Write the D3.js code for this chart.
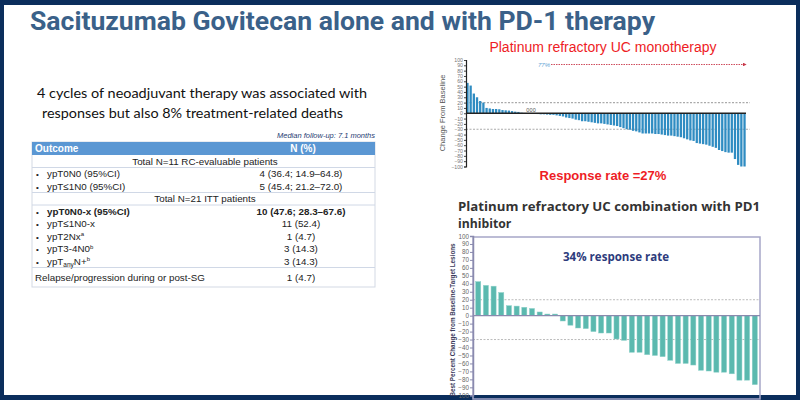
<!DOCTYPE html>
<html><head><meta charset="utf-8">
<script src="https://cdn.jsdelivr.net/npm/d3@7"></script>
<style>body{margin:0;background:#fff}svg{display:block}</style>
</head><body>
<svg id="c" width="800" height="400"></svg>
<script>
// ---------- DATA ----------
const monoValues = [57,52,37,30,23,20,10,9,8,8,7.5,6,5.5,5,4,3,2.5,1,
  0,0,0,
  -1,-1.5,-2,-2,-2.5,-3,-3,-4,-5,-6,-8,-9,-10,-12,-13,-15,-15,-16,-17,-18,
  -19,-19,-20,-21,-22,-23,-24,-26,-28,-30,-31,-33,-34,-36,-38,-38,-38,-38,-39,-39,
  -40,-41,-42,-42,-43,-44,-45,-47,-49,-51,-52,-56,-57,-58,-59,-61,-63,-65,-69,-71,
  -73,-74,-74,-86,-97,-100,-100];
const comboValues = [42.7,38,37,29,12.5,12,10.5,9,4.6,2,2,-6.7,-12,-15.5,-16.3,-20,-21.8,-21.8,
  -29.3,-31,-46,-46,-49,-50,-51.5,-56,-60,-60,-62,-68.6,-69.5,-71,-71,-73,-81,-81,-86.6];
const yTicks = d3.range(-100, 101, 10);
const refLines = [20, -30];
const tableOutcomes = ["Total N=11 RC-evaluable patients","ypT0N0 (95%CI)","ypT≤1N0 (95%CI)",
  "Total N=21 ITT patients","ypT0N0-x (95%CI)","ypT≤1N0-x","ypT2Nx^a","ypT3-4N0^b","ypT_any_N+^b",
  "Relapse/progression during or post-SG"];
const tableN = ["","4 (36.4; 14.9–64.8)","5 (45.4; 21.2–72.0)","","10 (47.6; 28.3–67.6)",
  "11 (52.4)","1 (4.7)","3 (14.3)","3 (14.3)","1 (4.7)"];
const tableRowType = ["group","item","item","group","bold","item","item","item","item","plain"];

// ---------- SETUP ----------
const svg = d3.select("#c");
svg.append("rect").attr("width",800).attr("height",400).attr("fill","#fff");
const navy = "#0b2e5c";
svg.append("rect").attr("x",0).attr("y",0).attr("width",800).attr("height",5).attr("fill",navy);
svg.append("rect").attr("x",0).attr("y",0).attr("width",4).attr("height",400).attr("fill",navy);
svg.append("rect").attr("x",796).attr("y",0).attr("width",4).attr("height",400).attr("fill",navy);
svg.append("rect").attr("x",0).attr("y",395).attr("width",800).attr("height",5).attr("fill",navy);

// Title
svg.append("text").attr("x",30).attr("y",30)
  .attr("font-family","Roboto, sans-serif").attr("font-weight","bold").attr("font-size",25)
  .attr("fill","#3a6189").attr("textLength",625).attr("lengthAdjust","spacingAndGlyphs")
  .text("Sacituzumab Govitecan alone and with PD-1 therapy");

// Paragraph
svg.append("text").attr("x",37).attr("y",98)
  .attr("font-family","Lato, 'Open Sans', sans-serif").attr("font-size",14).attr("fill","#111")
  .attr("textLength",330).attr("lengthAdjust","spacingAndGlyphs")
  .text("4 cycles of neoadjuvant therapy was associated with");
svg.append("text").attr("x",42).attr("y",118)
  .attr("font-family","Lato, 'Open Sans', sans-serif").attr("font-size",14).attr("fill","#111")
  .attr("textLength",301).attr("lengthAdjust","spacingAndGlyphs")
  .text("responses but also 8% treatment-related deaths");

// ---------- TABLE ----------
const tf = "'Liberation Sans', Arial, sans-serif";
const tX0 = 32, tX1 = 375, headTop = 142, headH = 13, rowH = 12.5, valX = 301;
svg.append("text").attr("x",tX1).attr("y",138).attr("text-anchor","end")
  .attr("font-family",tf).attr("font-style","italic").attr("font-size",7.5).attr("fill","#1f3d73")
  .text("Median follow-up: 7.1 months");
svg.append("rect").attr("x",tX0).attr("y",headTop).attr("width",tX1-tX0).attr("height",287-headTop)
  .attr("fill","#fff").attr("stroke","#d3d9e4").attr("stroke-width",1);
svg.append("rect").attr("x",tX0).attr("y",headTop).attr("width",tX1-tX0).attr("height",headH)
  .attr("fill","#5b97d3");
svg.append("text").attr("x",35).attr("y",headTop+10).attr("font-family",tf).attr("font-weight","bold")
  .attr("font-size",10).attr("fill","#fff").text("Outcome");
svg.append("text").attr("x",valX+2).attr("y",headTop+10).attr("text-anchor","middle").attr("font-family",tf)
  .attr("font-weight","bold").attr("font-size",10).attr("fill","#fff").text("N (%)");

const rowTop = i => i < 9 ? headTop+headH+i*rowH : headTop+headH+9*rowH;
const rowHt = i => i < 9 ? rowH : 287-(headTop+headH+9*rowH);
[1,3,4,9].forEach(i=>{
  svg.append("line").attr("x1",tX0).attr("x2",tX1).attr("y1",rowTop(i)).attr("y2",rowTop(i))
    .attr("stroke","#d0d8e6").attr("stroke-width",1);
});
function addRich(sel, str){
  const parts = str.split(/(_[^_]+_|\^[a-z])/).filter(s=>s.length);
  let shift = 0;
  parts.forEach(p=>{
    if (p.startsWith("_")) { sel.append("tspan").attr("dy",2-shift).attr("font-size",6.5).text(p.slice(1,-1)); shift=2; }
    else if (p.startsWith("^")) { sel.append("tspan").attr("dy",-3.5-shift).attr("font-size",6).text(p.slice(1)); shift=-3.5; }
    else { sel.append("tspan").attr("dy",-shift).text(p); shift=0; }
  });
}
tableOutcomes.forEach((o,i)=>{
  const cy = rowTop(i)+rowHt(i)/2 + 3.4;
  const t = tableRowType[i];
  const weight = t==="bold" ? "bold" : "normal";
  if (t==="group") {
    svg.append("text").attr("x",205).attr("y",cy).attr("text-anchor","middle").attr("font-family",tf)
      .attr("font-size",9.8).attr("fill","#222").text(o);
  } else {
    if (t!=="plain") svg.append("text").attr("x",36).attr("y",cy).attr("font-family",tf).attr("font-size",8)
      .attr("fill","#222").text("•");
    const tx = svg.append("text").attr("x",t==="plain"?35:47).attr("y",cy).attr("font-family",tf)
      .attr("font-size",9.8).attr("font-weight",weight).attr("fill","#222");
    addRich(tx,o);
    svg.append("text").attr("x",valX).attr("y",cy).attr("text-anchor","middle").attr("font-family",tf)
      .attr("font-size",9.8).attr("font-weight",weight).attr("fill","#222").text(tableN[i]);
  }
});

// ---------- TOP-RIGHT: monotherapy waterfall ----------
const af = "'Liberation Sans', Arial, sans-serif";
svg.append("text").attr("x",603).attr("y",52).attr("text-anchor","middle").attr("font-family",af)
  .attr("font-size",14).attr("fill","#ee1c25").text("Platinum refractory UC monotherapy");
const x1 = d3.scaleBand().domain(d3.range(monoValues.length)).range([466,746]).paddingInner(0.28).paddingOuter(0.1);
const y1 = d3.scaleLinear().domain([-100,100]).range([166.5,60]);
const g1 = svg.append("g");
refLines.forEach(v=>{
  g1.append("line").attr("x1",466).attr("x2",750).attr("y1",y1(v)).attr("y2",y1(v))
    .attr("stroke","#aaa").attr("stroke-width",1.2).attr("stroke-dasharray","2,1.5");
});
g1.selectAll("rect.b").data(monoValues).enter().append("rect").attr("class","b")
  .attr("x",(d,i)=>x1(i)).attr("width",x1.bandwidth())
  .attr("y",d=>y1(Math.max(0,d))).attr("height",d=>Math.abs(y1(d)-y1(0)))
  .attr("fill","#2f8cc2");
g1.selectAll("text.z").data(monoValues.map((d,i)=>({d,i})).filter(o=>o.d===0)).enter().append("text")
  .attr("x",o=>x1(o.i)+x1.bandwidth()/2+3).attr("y",y1(0)-1.5).attr("text-anchor","middle")
  .attr("font-family",af).attr("font-size",5.5).attr("fill","#555").text(o=>o.d);
g1.append("line").attr("x1",466).attr("x2",746).attr("y1",y1(0)).attr("y2",y1(0))
  .attr("stroke","#222").attr("stroke-width",1.4);
const ax1 = g1.append("g").attr("transform","translate(466,0)")
  .call(d3.axisLeft(y1).tickValues(yTicks).tickSize(2).tickPadding(1).tickFormat(d3.format("d")));
ax1.select(".domain").attr("stroke","#222").attr("stroke-width",1.2);
ax1.selectAll(".tick line").attr("stroke","#444");
ax1.selectAll("text").attr("font-family",af).attr("font-size",5.2).attr("fill","#777");
svg.append("text").attr("transform","translate(445,113) rotate(-90)").attr("text-anchor","middle")
  .attr("font-family",af).attr("font-size",7.5).attr("fill","#555").text("Change From Baseline");
// 77% arrow
svg.append("defs").append("marker").attr("id","arr").attr("viewBox","0 0 6 6").attr("refX",5).attr("refY",3)
  .attr("markerWidth",4).attr("markerHeight",4).attr("orient","auto")
  .append("path").attr("d","M0,0L6,3L0,6Z").attr("fill","#c8384a");
svg.append("text").attr("x",538).attr("y",66.5).attr("font-family",af).attr("font-style","italic")
  .attr("font-size",6).attr("fill","#6aa8d6").text("77%");
svg.append("line").attr("x1",551).attr("x2",746).attr("y1",64.5).attr("y2",64.5)
  .attr("stroke","#c8384a").attr("stroke-width",0.9).attr("stroke-dasharray","1.5,1").attr("marker-end","url(#arr)");
svg.append("text").attr("x",603).attr("y",180).attr("text-anchor","middle").attr("font-family",af)
  .attr("font-weight","bold").attr("font-size",13).attr("fill","#ee1c25").text("Response rate =27%");

// ---------- BOTTOM-RIGHT: combination waterfall ----------
const of = "'Open Sans', sans-serif";
svg.append("text").attr("x",458).attr("y",211).attr("font-family",of).attr("font-weight","bold")
  .attr("font-size",12.2).attr("fill","#333").attr("textLength",302).attr("lengthAdjust","spacingAndGlyphs")
  .text("Platinum refractory UC combination with PD1");
svg.append("text").attr("x",458).attr("y",228).attr("font-family",of).attr("font-weight","bold")
  .attr("font-size",12.2).attr("fill","#333").text("inhibitor");
const x2 = d3.scaleBand().domain(d3.range(comboValues.length)).range([473,760]).paddingInner(0.34).paddingOuter(0.35);
const y2 = d3.scaleLinear().domain([-100,100]).range([395.3,236]);
const g2 = svg.append("g");
g2.append("rect").attr("x",473).attr("y",237).attr("width",287).attr("height",162)
  .attr("fill","none").attr("stroke","#a6a6c8").attr("stroke-width",1.5);
refLines.forEach(v=>{
  g2.append("line").attr("x1",473).attr("x2",760).attr("y1",y2(v)).attr("y2",y2(v))
    .attr("stroke","#bbb").attr("stroke-width",1).attr("stroke-dasharray","2,1.5");
});
g2.selectAll("rect.b").data(comboValues).enter().append("rect").attr("class","b")
  .attr("x",(d,i)=>x2(i)).attr("width",x2.bandwidth())
  .attr("y",d=>y2(Math.max(0,d))).attr("height",d=>Math.abs(y2(d)-y2(0)))
  .attr("fill","#5bb9af").attr("stroke","#8ed1c9").attr("stroke-width",0.5);
g2.append("line").attr("x1",473).attr("x2",760).attr("y1",y2(0)).attr("y2",y2(0))
  .attr("stroke","#8a8aae").attr("stroke-width",1.2);
const ax2 = g2.append("g").attr("transform","translate(473,0)")
  .call(d3.axisLeft(y2).tickValues(yTicks).tickSize(3).tickPadding(1).tickFormat(d3.format("d")));
ax2.select(".domain").attr("stroke","#8a8aae").attr("stroke-width",1.5);
ax2.selectAll(".tick line").attr("stroke","#8a8aae");
ax2.selectAll("text").attr("font-family",af).attr("font-size",6.3).attr("fill","#666");
svg.append("text").attr("transform","translate(455,320) rotate(-90)").attr("text-anchor","middle")
  .attr("font-family",af).attr("font-weight","bold").attr("font-size",6.3).attr("fill","#3c3c5c")
  .text("Best Percent Change from Baseline-Target Lesions");
svg.append("text").attr("x",616).attr("y",261).attr("text-anchor","middle").attr("font-family",of)
  .attr("font-weight","bold").attr("font-size",13).attr("fill","#2d3b7c")
  .attr("textLength",106).attr("lengthAdjust","spacingAndGlyphs").text("34% response rate");
</script>
</body></html>
